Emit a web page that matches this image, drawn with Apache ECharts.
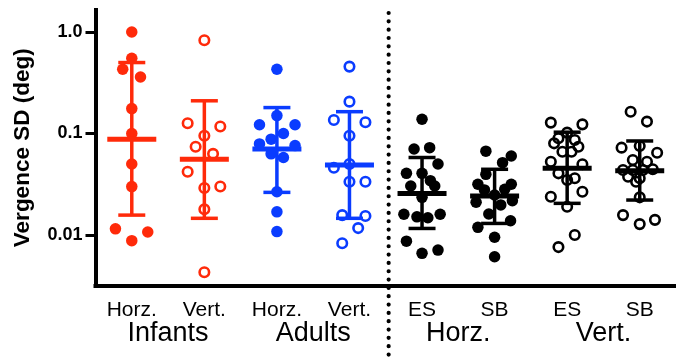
<!DOCTYPE html>
<html>
<head>
<meta charset="utf-8">
<script src="https://cdn.jsdelivr.net/npm/echarts@6/dist/echarts.min.js"></script>
<style>
html, body { margin: 0; padding: 0; background: #fff; }
#chart { width: 676px; height: 358px; }
</style>
</head>
<body>
<div id="chart"></div>
<script>
// categories
var groupLabels = ['Horz.', 'Vert.', 'Horz.', 'Vert.', 'ES', 'SB', 'ES', 'SB'];
var groupNames = ['Infants', 'Adults', 'Horz.', 'Vert.'];
var yTicks = [0.01, 0.1, 1];

// individual values (deg) and their horizontal scatter (category units)
var infHorz = [1.0, 0.55, 0.43, 0.36, 0.176, 0.10, 0.050, 0.030, 0.0115, 0.0107, 0.0088];
var infHorzJit = [0, 0, -0.125, 0.12, 0, 0, 0, 0, -0.225, 0.22, 0];
var infVert = [0.83, 0.126, 0.117, 0.095, 0.074, 0.063, 0.042, 0.029, 0.030, 0.0179, 0.0043];
var infVertJit = [0, -0.23, 0.22, 0, -0.12, 0.12, -0.23, 0, 0.22, 0, 0];
var adHorz = [0.43, 0.150, 0.122, 0.122, 0.100, 0.088, 0.079, 0.076, 0.063, 0.058, 0.0267, 0.0169, 0.0108];
var adHorzJit = [0, 0, -0.24, 0.25, 0.09, -0.08, -0.24, 0.25, -0.08, 0.09, 0, 0, 0];
var adVert = [0.456, 0.206, 0.136, 0.129, 0.095, 0.046, 0.050, 0.0335, 0.0335, 0.0157, 0.0154, 0.0117, 0.0083];
var adVertJit = [0, 0, -0.215, 0.22, 0, -0.215, 0, 0, 0.22, -0.10, 0.22, 0.12, -0.10];
var esHorz = [0.138, 0.0704, 0.0725, 0.050, 0.0405, 0.0405, 0.0343, 0.0304, 0.0304, 0.0235, 0.016, 0.0151, 0.0148, 0.016, 0.0087, 0.0066, 0.0071];
var esHorzJit = [0, -0.11, 0.105, 0.22, -0.215, 0, 0.115, -0.155, 0.175, 0, -0.25, -0.07, 0.08, 0.25, -0.215, 0, 0.22];
var sbHorz = [0.067, 0.060, 0.0516, 0.0396, 0.0316, 0.0316, 0.0278, 0.0282, 0.0248, 0.0210, 0.0198, 0.0218, 0.0161, 0.0138, 0.0119, 0.0095, 0.0061];
var sbHorzJit = [-0.12, 0.23, 0.11, -0.12, -0.23, 0.23, -0.14, 0.14, 0, -0.255, 0.085, 0.245, -0.08, 0.22, -0.23, 0, 0];
var esVert = [0.128, 0.123, 0.102, 0.0897, 0.0863, 0.080, 0.074, 0.066, 0.066, 0.0527, 0.0497, 0.0405, 0.0362, 0.0348, 0.0238, 0.0267, 0.019, 0.0100, 0.0076];
var esVertJit = [-0.225, 0.21, 0, -0.12, 0.105, -0.18, 0.155, -0.065, 0.06, -0.225, 0.21, -0.12, 0.105, 0, -0.225, 0.21, 0, 0.105, -0.12];
var sbVert = [0.164, 0.131, 0.0725, 0.0753, 0.0647, 0.0548, 0.0527, 0.0437, 0.0437, 0.0437, 0.0444, 0.0375, 0.0362, 0.0335, 0.0235, 0.0157, 0.0128, 0.0141];
var sbVertJit = [-0.125, 0.10, -0.25, 0, 0.24, -0.095, 0.10, -0.23, -0.095, 0.045, 0.18, -0.16, 0, -0.05, 0, -0.23, 0, 0.21];

// mean and +/- SD (geometric)
var means = [0.0877, 0.0557, 0.0704, 0.049, 0.0257, 0.0242, 0.0454, 0.043];
var sdHigh = [0.50, 0.21, 0.18, 0.164, 0.058, 0.0444, 0.103, 0.0844];
var sdLow = [0.0157, 0.0146, 0.0263, 0.0146, 0.0116, 0.0130, 0.0205, 0.0221];

var groupVals = [infHorz, infVert, adHorz, adVert, esHorz, sbHorz, esVert, sbVert];
var groupJit = [infHorzJit, infVertJit, adHorzJit, adVertJit, esHorzJit, sbHorzJit, esVertJit, sbVertJit];

var RED = '#ff2a0a', BLUE = '#0a3cff', BLACK = '#000';
var colors = [RED, RED, BLUE, BLUE, BLACK, BLACK, BLACK, BLACK];
var hollow = [false, true, false, true, false, false, true, true];

var chart = echarts.init(document.getElementById('chart'));

var series = [];
groupVals.forEach(function (vals, g) {
    series.push({
        type: 'scatter',
        xAxisIndex: 1,
        symbol: 'circle',
        symbolSize: hollow[g] ? 9.5 : 11.5,
        itemStyle: hollow[g]
            ? { color: 'rgba(0,0,0,0)', borderColor: colors[g], borderWidth: 2.6, opacity: 1 }
            : { color: colors[g], opacity: 1 },
        data: vals.map(function (v, k) { return [g + groupJit[g][k], v]; }),
        z: 2
    });
});

// mean line + SD whiskers
series.push({
    type: 'custom',
    xAxisIndex: 1,
    z: 3,
    encode: { x: 0, y: [1, 2, 3] },
    data: means.map(function (m, i) { return [i, m, sdHigh[i], sdLow[i]]; }),
    renderItem: function (params, api) {
        var i = api.value(0);
        var c = api.coord([i, api.value(1)]);
        var hi = api.coord([i, api.value(2)]);
        var lo = api.coord([i, api.value(3)]);
        var st = { stroke: colors[i], lineWidth: 3.5 };
        return {
            type: 'group',
            children: [
                { type: 'line', shape: { x1: c[0], y1: hi[1], x2: c[0], y2: lo[1] }, style: st },
                { type: 'line', shape: { x1: c[0] - 13.5, y1: hi[1], x2: c[0] + 13.5, y2: hi[1] }, style: st },
                { type: 'line', shape: { x1: c[0] - 13.5, y1: lo[1], x2: c[0] + 13.5, y2: lo[1] }, style: st },
                { type: 'line', shape: { x1: c[0] - 24.5, y1: c[1], x2: c[0] + 24.5, y2: c[1] }, style: { stroke: colors[i], lineWidth: 5 } }
            ]
        };
    }
});

var option = {
    animation: false,
    backgroundColor: '#fff',
    grid: { left: 95.5, top: 10, width: 584, bottom: 72.5 },
    xAxis: [
        {
            type: 'category',
            position: 'bottom',
            data: groupLabels,
            axisLine: { onZero: false, lineStyle: { color: '#000', width: 4, cap: 'square' } },
            axisTick: { alignWithLabel: true, length: 10, lineStyle: { color: '#000', width: 3.5 } },
            axisLabel: { color: '#000', fontSize: 21, fontFamily: 'Liberation Sans', margin: 14 },
            splitLine: { show: false }
        },
        {
            type: 'value',
            position: 'bottom',
            min: -0.5,
            max: 7.5,
            show: false
        },
        {
            type: 'category',
            position: 'bottom',
            data: groupNames,
            axisLine: { show: false },
            axisTick: { show: false },
            axisLabel: { color: '#000', fontSize: 27, fontFamily: 'Liberation Sans', margin: 35 },
            splitLine: { show: false }
        }
    ],
    yAxis: {
        type: 'log',
        logBase: 10,
        min: 0.00318,
        max: 1.647,
        name: 'Vergence SD (deg)',
        nameLocation: 'middle',
        nameGap: 61,
        nameTextStyle: { color: '#000', fontSize: 22.5, fontWeight: 'bold', fontFamily: 'Liberation Sans' },
        axisLine: { show: true, onZero: false, lineStyle: { color: '#000', width: 4, cap: 'square' } },
        axisTick: { show: true, length: 10, customValues: yTicks, lineStyle: { color: '#000', width: 3 } },
        axisLabel: {
            customValues: yTicks,
            color: '#000',
            fontSize: 18,
            fontWeight: 'bold',
            fontFamily: 'Liberation Sans',
            margin: 13,
            formatter: function (v) {
                if (v >= 1) return '1.0';
                return String(v);
            }
        },
        splitLine: { show: false }
    },
    series: series
};
chart.setOption(option);

// dotted separator between the infant/adult and the ES/SB panels
var sepX = chart.convertToPixel({ xAxisIndex: 1 }, 3.54);
chart.setOption({
    graphic: [{
        type: 'line',
        shape: { x1: sepX, y1: 13, x2: sepX, y2: 362 },
        style: { stroke: '#000', lineWidth: 4.2, lineDash: [0, 8.33], lineCap: 'round' },
        z: 10
    }]
});
</script>
</body>
</html>
